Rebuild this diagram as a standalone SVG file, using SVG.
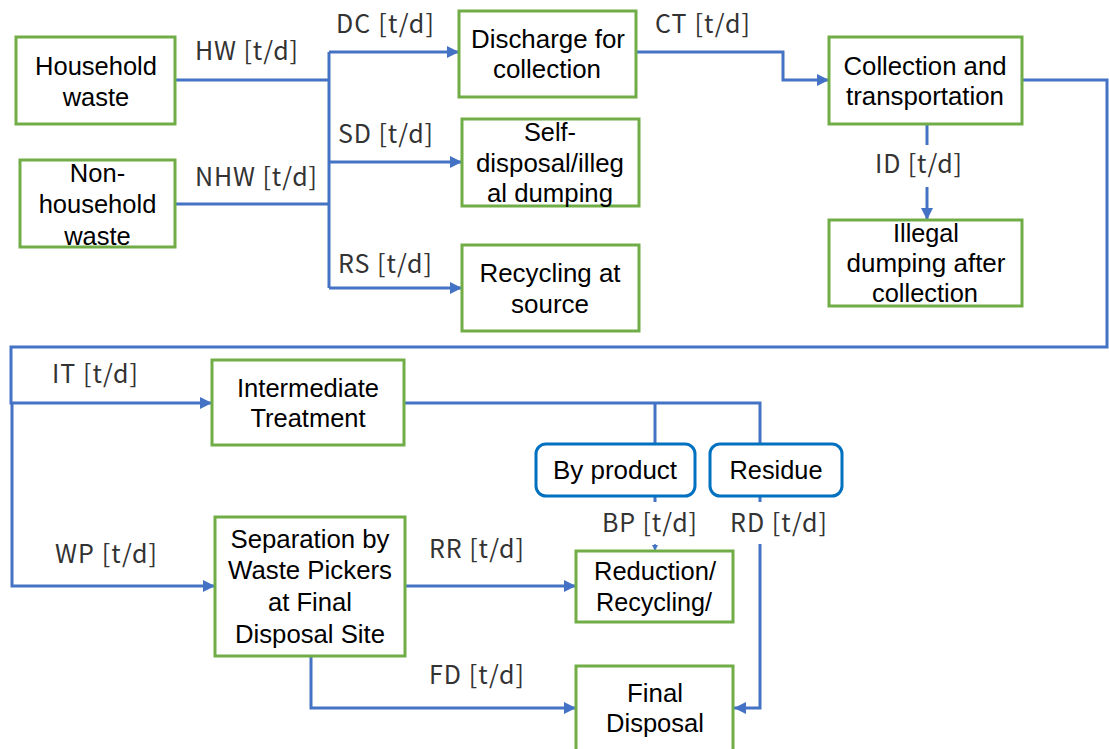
<svg xmlns="http://www.w3.org/2000/svg" width="1109" height="749" viewBox="0 0 1109 749">
<style>
.box{fill:#fff;stroke:#70AD47;stroke-width:3}
.rbox{fill:#fff;stroke:#0070C0;stroke-width:3}
.t{font-family:"Liberation Sans",Arial,sans-serif;font-size:25.5px;fill:#000;text-anchor:middle}
.lbl{font-family:"Noto Sans CJK JP","DejaVu Sans",sans-serif;font-weight:normal;font-size:25px;fill:#333}
.c{fill:none;stroke:#4472C4;stroke-width:3}
.a{marker-end:url(#arr)}
</style>
<defs>
<marker id="arr" markerUnits="userSpaceOnUse" markerWidth="13" markerHeight="13" refX="12" refY="6" orient="auto"><path d="M0,0 L12,6 L0,12 z" fill="#4472C4"/></marker>
<marker id="arrS" markerUnits="userSpaceOnUse" markerWidth="7" markerHeight="7" refX="6" refY="3" orient="auto"><path d="M0,0 L6,3 L0,6 z" fill="#4472C4"/></marker>
</defs>
<g id="connectors">
<path class="c" d="M175,80 H329"/>
<path class="c" d="M175,204 H329"/>
<path class="c" d="M329,52 V288"/>
<path class="c a" d="M329,52 H459"/>
<path class="c a" d="M329,162 H462"/>
<path class="c a" d="M329,288 H462"/>
<path class="c a" d="M636,52 H783 V80 H829"/>
<path class="c a" d="M1022,80 H1107 V347 H11 V403 H212"/>
<path class="c a" d="M12,403 V586 H215"/>
<path class="c" d="M927,124 V145"/>
<path class="c a" d="M927,187 V220"/>
<path class="c" d="M404,403 H760 V444"/>
<path class="c" d="M655,403 V444"/>
<path class="c" d="M655,496 V502"/>
<path class="c" d="M655,544 V551" style="stroke-width:1.5;marker-end:url(#arrS)"/>
<path class="c" d="M760,496 V502"/>
<path class="c a" d="M760,544 V708 H734"/>
<path class="c a" d="M405,586 H576"/>
<path class="c a" d="M311,657 V708 H576"/>
</g>
<g id="labels">
<text class="lbl" x="336" y="33" textLength="98">DC [t/d]</text>
<text class="lbl" x="195" y="60" textLength="103">HW [t/d]</text>
<text class="lbl" x="338" y="143" textLength="95">SD [t/d]</text>
<text class="lbl" x="195" y="186" textLength="122">NHW [t/d]</text>
<text class="lbl" x="338" y="273" textLength="94">RS [t/d]</text>
<text class="lbl" x="655" y="33" textLength="95">CT [t/d]</text>
<text class="lbl" x="875" y="173" textLength="87">ID [t/d]</text>
<text class="lbl" x="52" y="383" textLength="86">IT [t/d]</text>
<text class="lbl" x="55" y="563" textLength="102">WP [t/d]</text>
<text class="lbl" x="429" y="558" textLength="95">RR [t/d]</text>
<text class="lbl" x="429" y="684" textLength="95">FD [t/d]</text>
<text class="lbl" x="602" y="532" textLength="95">BP [t/d]</text>
<text class="lbl" x="730" y="532" textLength="97">RD [t/d]</text>
</g>
<g id="household">
<rect class="box" x="16" y="37" width="159" height="87"/>
<text class="t" x="96" y="75">Household</text>
<text class="t" x="96" y="106">waste</text>
</g>
<g id="nonhousehold">
<rect class="box" x="20" y="160" width="155" height="87"/>
<text class="t" x="97.5" y="182">Non-</text>
<text class="t" x="97.5" y="213">household</text>
<text class="t" x="97.5" y="245">waste</text>
</g>
<g id="discharge">
<rect class="box" x="459" y="11" width="177" height="86"/>
<text class="t" x="548" y="48" textLength="154" lengthAdjust="spacingAndGlyphs">Discharge for</text>
<text class="t" x="547" y="78" textLength="108" lengthAdjust="spacingAndGlyphs">collection</text>
</g>
<g id="selfdisposal">
<rect class="box" x="462" y="119" width="177" height="87"/>
<text class="t" x="550" y="141" textLength="52" lengthAdjust="spacingAndGlyphs">Self-</text>
<text class="t" x="550" y="172" textLength="148" lengthAdjust="spacingAndGlyphs">disposal/illeg</text>
<text class="t" x="550" y="202" textLength="126" lengthAdjust="spacingAndGlyphs">al dumping</text>
</g>
<g id="recycling-source">
<rect class="box" x="462" y="245" width="177" height="86"/>
<text class="t" x="550" y="282" textLength="141" lengthAdjust="spacingAndGlyphs">Recycling at</text>
<text class="t" x="550" y="313" textLength="78" lengthAdjust="spacingAndGlyphs">source</text>
</g>
<g id="collection">
<rect class="box" x="829" y="37" width="193" height="87"/>
<text class="t" x="925" y="75" textLength="163" lengthAdjust="spacingAndGlyphs">Collection and</text>
<text class="t" x="925" y="105" textLength="158" lengthAdjust="spacingAndGlyphs">transportation</text>
</g>
<g id="illegal">
<rect class="box" x="829" y="220" width="193" height="86"/>
<text class="t" x="926" y="242" textLength="66" lengthAdjust="spacingAndGlyphs">Illegal</text>
<text class="t" x="926" y="272" textLength="159" lengthAdjust="spacingAndGlyphs">dumping after</text>
<text class="t" x="925" y="302" textLength="106" lengthAdjust="spacingAndGlyphs">collection</text>
</g>
<g id="intermediate">
<rect class="box" x="212" y="360" width="192" height="85"/>
<text class="t" x="308" y="397" textLength="142" lengthAdjust="spacingAndGlyphs">Intermediate</text>
<text class="t" x="308" y="427" textLength="115" lengthAdjust="spacingAndGlyphs">Treatment</text>
</g>
<g id="byproduct">
<rect class="rbox" x="536" y="444" width="159" height="52" rx="10"/>
<text class="t" x="615" y="479" textLength="124" lengthAdjust="spacingAndGlyphs">By product</text>
</g>
<g id="residue">
<rect class="rbox" x="710" y="444" width="132" height="52" rx="10"/>
<text class="t" x="776" y="479" textLength="93" lengthAdjust="spacingAndGlyphs">Residue</text>
</g>
<g id="separation">
<rect class="box" x="215" y="517" width="190" height="139"/>
<text class="t" x="310" y="548" textLength="159" lengthAdjust="spacingAndGlyphs">Separation by</text>
<text class="t" x="310" y="579" textLength="164" lengthAdjust="spacingAndGlyphs">Waste Pickers</text>
<text class="t" x="310" y="611" textLength="84" lengthAdjust="spacingAndGlyphs">at Final</text>
<text class="t" x="310" y="643" textLength="150" lengthAdjust="spacingAndGlyphs">Disposal Site</text>
</g>
<g id="reduction">
<rect class="box" x="576" y="551" width="157" height="71"/>
<text class="t" x="655" y="580" textLength="122" lengthAdjust="spacingAndGlyphs">Reduction/</text>
<text class="t" x="654" y="611" textLength="116" lengthAdjust="spacingAndGlyphs">Recycling/</text>
</g>
<g id="final">
<rect class="box" x="576" y="666" width="157" height="100"/>
<text class="t" x="655" y="702" textLength="56" lengthAdjust="spacingAndGlyphs">Final</text>
<text class="t" x="655" y="732" textLength="98" lengthAdjust="spacingAndGlyphs">Disposal</text>
</g>
</svg>
